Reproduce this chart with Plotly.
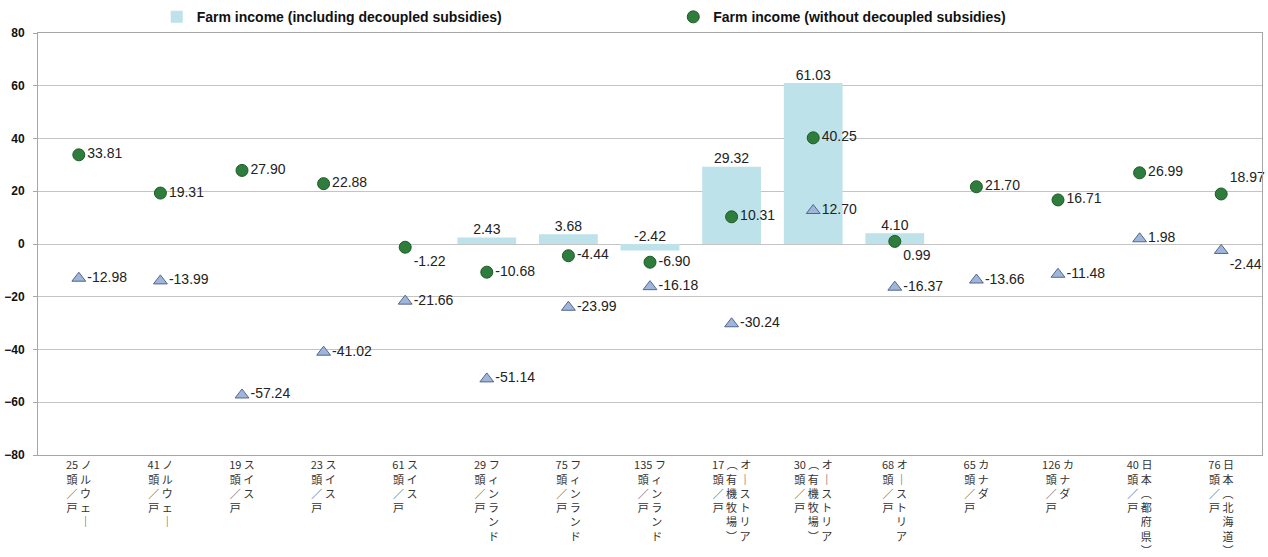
import plotly.graph_objects as go

# ---- data ----
herd_sizes = ["25", "41", "19", "23", "61", "29", "75", "135", "17", "30", "68", "65", "126", "40", "76"]
countries = ["ノルウェー", "ノルウェー", "スイス", "スイス", "スイス", "フィンランド", "フィンランド", "フィンランド",
             "オーストリア", "オーストリア", "オーストリア", "カナダ", "カナダ", "日本（都府県）", "日本（北海道）"]
notes = ["", "", "", "", "", "", "", "", "（有機牧場）", "（有機牧場）", "", "", "", "", ""]

income_incl = [None, None, None, None, None, 2.43, 3.68, -2.42, 29.32, 61.03, 4.10, None, None, None, None]
income_excl = [33.81, 19.31, 27.90, 22.88, -1.22, -10.68, -4.44, -6.90, 10.31, 40.25, 0.99, 21.70, 16.71, 26.99, 18.97]
income_other = [-12.98, -13.99, -57.24, -41.02, -21.66, -51.14, -23.99, -16.18, -30.24, 12.70, -16.37, -13.66, -11.48, 1.98, -2.44]

y_ticks = [-80, -60, -40, -20, 0, 20, 40, 60, 80]

# ---- styles ----
excl_pos = ["middle right"] * 15
excl_pos[4] = "bottom right"
excl_pos[10] = "bottom right"
excl_pos[14] = "top right"
other_pos = ["middle right"] * 15
other_pos[14] = "bottom right"

VMAP = {"ー": "｜", "（": "︵", "）": "︶", "/": "／"}


def vert(s):
    return [VMAP.get(c, c) for c in s]


def tick_label(h, country, note):
    cols = [[h, "頭", "／", "戸"]]
    if note:
        cols.append(vert(note))
    cols.append(vert(country))
    n = max(len(c) for c in cols)
    lines = []
    for i in range(n):
        lines.append(" ".join(c[i] if i < len(c) else "　" for c in cols))
    return "<br>".join(lines)


ticktext = [tick_label(h, c, n) for h, c, n in zip(herd_sizes, countries, notes)]
xs = list(range(len(herd_sizes)))

fig = go.Figure()

fig.add_trace(go.Bar(
    x=xs, y=income_incl, name="Farm income (including decoupled subsidies)",
    marker=dict(color="#bde2e9", line=dict(width=0)), width=0.72,
    legend="legend", hoverinfo="skip",
))
fig.add_trace(go.Scatter(
    x=xs, y=[None if v is None else max(v, 0) for v in income_incl],
    mode="text", text=[None if v is None else f"{v:.2f}" for v in income_incl],
    textposition="top center", textfont=dict(family="Arial", size=14, color="#222"),
    showlegend=False, hoverinfo="skip", cliponaxis=False,
))
fig.add_trace(go.Scatter(
    x=xs, y=income_other, mode="markers+text", name="other",
    marker=dict(symbol="triangle-up", size=12, color="#9fb6dc", line=dict(color="#55658a", width=1)),
    text=[f"{v:.2f}" for v in income_other], textposition=other_pos,
    textfont=dict(family="Arial", size=14, color="#222"),
    showlegend=False, cliponaxis=False,
))
fig.add_trace(go.Scatter(
    x=xs, y=income_excl, mode="markers+text", name="Farm income (without decoupled subsidies)",
    marker=dict(symbol="circle", size=12, color="#2f7d3c", line=dict(color="#1d5a27", width=1)),
    text=[f"{v:.2f}" for v in income_excl], textposition=excl_pos,
    textfont=dict(family="Arial", size=14, color="#222"),
    legend="legend2", cliponaxis=False,
))

fig.update_layout(
    width=1268, height=557,
    margin=dict(l=38, r=6, t=33, b=102, autoexpand=False),
    paper_bgcolor="white", plot_bgcolor="white",
    showlegend=True,
    legend=dict(x=0.097, y=0.969, xref="paper", yref="container", xanchor="left", yanchor="middle",
                orientation="h",
                font=dict(family="Arial", size=14, color="#111", weight="bold"),
                bgcolor="rgba(0,0,0,0)"),
    legend2=dict(x=0.519, y=0.969, xref="paper", yref="container", xanchor="left", yanchor="middle",
                 orientation="h",
                 font=dict(family="Arial", size=14, color="#111", weight="bold"),
                 bgcolor="rgba(0,0,0,0)"),
    xaxis=dict(
        range=[-0.5, len(xs) - 0.5], tickmode="array", tickvals=xs, ticktext=ticktext,
        tickangle=0, showgrid=False, zeroline=False, automargin=False,
        showline=True, linecolor="#a6a6a6", linewidth=1, mirror=True,
        tickfont=dict(family="Noto Sans CJK JP", size=11, color="#333"),
        ticks="", fixedrange=True,
    ),
    yaxis=dict(
        range=[-80, 80], tickmode="array", tickvals=y_ticks, automargin=False,
        showgrid=True, gridcolor="#c4c4c4", gridwidth=1,
        zeroline=True, zerolinecolor="#c4c4c4", zerolinewidth=1,
        showline=True, linecolor="#a6a6a6", linewidth=1, mirror=True,
        ticks="outside", ticklen=4, tickcolor="#a6a6a6",
        tickfont=dict(family="Arial", size=12, color="#111", weight="bold"),
        ticklabelstandoff=6,
    ),
    bargap=0.28,
)

fig.write_html("out.html")
